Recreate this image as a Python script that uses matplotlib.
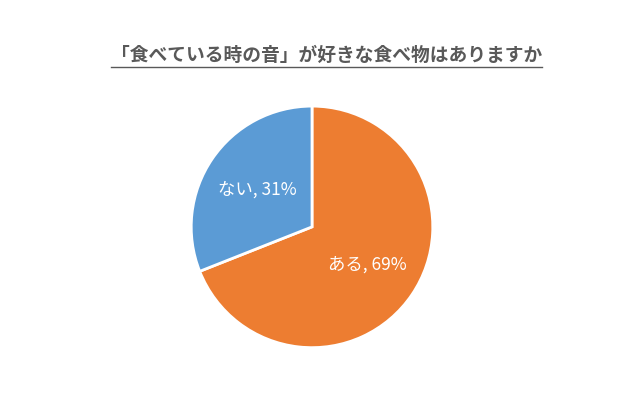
import matplotlib
matplotlib.use("Agg")
import matplotlib.pyplot as plt
from matplotlib.lines import Line2D

plt.rcParams['font.family'] = ['Noto Sans CJK JP', 'DejaVu Sans']

categories = ["ある", "ない"]
values = [69, 31]
colors = ["#ED7D31", "#5B9BD5"]
title = "「食べている時の音」が好きな食べ物はありますか"

fig = plt.figure(figsize=(6.4, 4.11), dpi=100)
ax = fig.add_axes([0.4875 - 0.1906, 0.448 - 0.2968, 0.3812, 0.5936])
labels = [f"{c}, {v}%" for c, v in zip(categories, values)]
ax.pie(values, labels=labels, colors=colors, startangle=90, counterclock=False,
       labeldistance=0.55,
       wedgeprops={"linewidth": 2, "edgecolor": "white"},
       textprops={"color": "white", "fontsize": 12.5, "ha": "center", "va": "center"})
ax.set_xlim(-1.01, 1.01)
ax.set_ylim(-1.01, 1.01)
ax.set_aspect("equal")

fig.text(0.511, 0.866, title, ha="center", va="center", fontsize=13.5,
         fontweight="bold", color="#595959")
fig.add_artist(Line2D([111 / 640, 542 / 640], [0.838, 0.838],
                      color="#595959", linewidth=1, transform=fig.transFigure))

fig.savefig("out.png", dpi=100)
